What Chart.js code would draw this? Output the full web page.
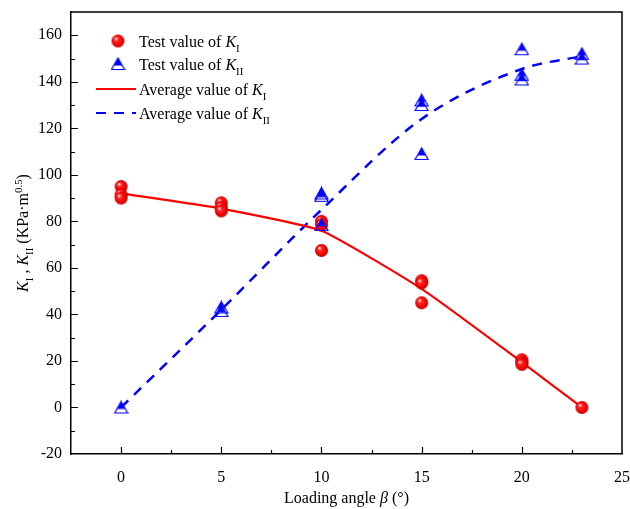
<!DOCTYPE html>
<html lang="en">
<head>
    <meta charset="UTF-8">
    <title>Stress intensity factors vs loading angle</title>
    <script src="https://cdn.jsdelivr.net/npm/chart.js"></script>
    <style>
        html, body { margin: 0; padding: 0; background: #fff; }
        #wrap { width: 630px; height: 509px; }
    </style>
</head>
<body>
    <div id="wrap"><canvas id="chart" width="630" height="509"></canvas></div>
    <script>
        // test points (angle, value)
        const kITestX = [0, 0, 0, 5, 5, 5, 10, 10, 10, 15, 15, 15, 20, 20, 20, 23];
        const kITestY = [95, 91.5, 90, 88, 86, 84.5, 80, 78.5, 67.5, 54.5, 53.5, 45, 20.5, 19.5, 18.5, 0];
        const kIITestX = [0, 5, 5, 10, 10, 10, 15, 15, 15, 20, 20, 20, 23, 23];
        const kIITestY = [0, 43, 41.5, 92, 91, 78.5, 132, 130, 109, 154, 143, 141, 152, 150];

        // averaged curves
        const avgAngles = [0, 5, 10, 15, 20, 23];
        const kIAvg = [92, 85.5, 76, 51, 19.5, 0];
        const kIIAvg = [0, 42, 85, 124, 145.5, 151];

        const xTicks = [0, 5, 10, 15, 20, 25];
        const yTicks = [-20, 0, 20, 40, 60, 80, 100, 120, 140, 160];

        const FONT = '"Liberation Serif", "Times New Roman", serif';
        const RED = '#ff0000';
        const BLUE = '#0000ff';

        function toPoints(xs, ys) {
            return xs.map((x, i) => ({ x: x, y: ys[i] }));
        }

        // red shaded ball marker
        function makeBall(r) {
            const c = document.createElement('canvas');
            c.width = c.height = r * 2 + 2;
            const g = c.getContext('2d');
            const cx = r + 1, cy = r + 1;
            const grad = g.createRadialGradient(cx - r * 0.35, cy - r * 0.4, 0.5, cx, cy, r);
            grad.addColorStop(0, '#ffd0d0');
            grad.addColorStop(0.3, '#ff2020');
            grad.addColorStop(0.8, '#ee0000');
            grad.addColorStop(1, '#b00000');
            g.fillStyle = grad;
            g.beginPath();
            g.arc(cx, cy, r, 0, Math.PI * 2);
            g.fill();
            return c;
        }

        // half filled blue triangle marker
        function makeTriangle(w, h) {
            const c = document.createElement('canvas');
            c.width = w + 2;
            c.height = h + 2;
            const g = c.getContext('2d');
            const cx = (w + 2) / 2, top = 1, bot = h + 1;
            g.strokeStyle = BLUE;
            g.lineWidth = 1.2;
            g.beginPath();
            g.moveTo(cx, top);
            g.lineTo(cx + w / 2, bot - 0.5);
            g.lineTo(cx - w / 2, bot - 0.5);
            g.closePath();
            g.stroke();
            const fy = top + h * 0.62;
            const half = (w / 2) * (fy - top) / h;
            g.fillStyle = BLUE;
            g.beginPath();
            g.moveTo(cx, top);
            g.lineTo(cx + half, fy);
            g.lineTo(cx - half, fy);
            g.closePath();
            g.fill();
            return c;
        }

        const ball = makeBall(6.5);
        const tri = makeTriangle(13, 12);

        // draws text with italic / sub / sup pieces, returns width
        function drawRich(ctx, parts, x, y, size) {
            let cx = x;
            parts.forEach(p => {
                let s = size, dy = 0;
                if (p.sub) { s = size * 0.68; dy = size * 0.3; }
                if (p.sup) { s = size * 0.68; dy = -size * 0.38; }
                ctx.font = (p.it ? 'italic ' : '') + s + 'px ' + FONT;
                ctx.fillText(p.t, cx, y + dy);
                cx += ctx.measureText(p.t).width;
            });
            return cx - x;
        }
        function richWidth(ctx, parts, size) {
            let w = 0;
            parts.forEach(p => {
                const s = (p.sub || p.sup) ? size * 0.68 : size;
                ctx.font = (p.it ? 'italic ' : '') + s + 'px ' + FONT;
                w += ctx.measureText(p.t).width;
            });
            return w;
        }

        const legendRows = [
            { kind: 'ball', parts: [{ t: 'Test value of ' }, { t: 'K', it: true }, { t: 'I', sub: true }] },
            { kind: 'tri', parts: [{ t: 'Test value of ' }, { t: 'K', it: true }, { t: 'II', sub: true }] },
            { kind: 'solid', parts: [{ t: 'Average value of ' }, { t: 'K', it: true }, { t: 'I', sub: true }] },
            { kind: 'dash', parts: [{ t: 'Average value of ' }, { t: 'K', it: true }, { t: 'II', sub: true }] }
        ];

        const decorPlugin = {
            id: 'decor',
            afterDraw(chart) {
                const ctx = chart.ctx;
                const a = chart.chartArea;
                const xs = chart.scales.x, ys = chart.scales.y;
                ctx.save();
                ctx.strokeStyle = '#000';
                ctx.lineWidth = 1.5;
                // frame top and right
                ctx.beginPath();
                ctx.moveTo(a.left, a.top);
                ctx.lineTo(a.right, a.top);
                ctx.lineTo(a.right, a.bottom);
                ctx.stroke();
                // inward ticks
                ctx.lineWidth = 1.2;
                ctx.beginPath();
                for (let v = 0; v < 25; v += 2.5) {
                    const px = Math.round(xs.getPixelForValue(v)) + 0.5;
                    const len = (v % 5 === 0) ? 7 : 4;
                    ctx.moveTo(px, a.bottom);
                    ctx.lineTo(px, a.bottom - len);
                }
                for (let v = -10; v <= 160; v += 10) {
                    const py = Math.round(ys.getPixelForValue(v)) + 0.5;
                    const len = (v % 20 === 0) ? 7 : 4;
                    ctx.moveTo(a.left, py);
                    ctx.lineTo(a.left + len, py);
                }
                ctx.stroke();

                // axis titles
                ctx.fillStyle = '#000';
                ctx.textBaseline = 'alphabetic';
                const xTitle = [{ t: 'Loading angle ' }, { t: 'β', it: true }, { t: ' (°)' }];
                const xw = richWidth(ctx, xTitle, 16);
                drawRich(ctx, xTitle, (a.left + a.right) / 2 - xw / 2, 503, 16);

                const yTitle = [
                    { t: 'K', it: true }, { t: 'I', sub: true }, { t: ' , ' },
                    { t: 'K', it: true }, { t: 'II', sub: true }, { t: ' (KPa·m' },
                    { t: '0.5', sup: true }, { t: ')' }
                ];
                const yw = richWidth(ctx, yTitle, 16);
                ctx.save();
                ctx.translate(28, (a.top + a.bottom) / 2);
                ctx.rotate(-Math.PI / 2);
                drawRich(ctx, yTitle, -yw / 2, 0, 16);
                ctx.restore();

                // legend
                const rowY = [41, 64, 89, 113];
                legendRows.forEach((r, i) => {
                    const y = rowY[i];
                    if (r.kind === 'ball') {
                        ctx.drawImage(ball, 118 - ball.width / 2, y - ball.height / 2);
                    } else if (r.kind === 'tri') {
                        ctx.drawImage(tri, 118 - tri.width / 2, y - tri.height / 2);
                    } else {
                        ctx.lineWidth = 2.2;
                        ctx.strokeStyle = r.kind === 'solid' ? RED : BLUE;
                        ctx.setLineDash(r.kind === 'dash' ? [10, 8] : []);
                        ctx.beginPath();
                        ctx.moveTo(96, y);
                        ctx.lineTo(136, y);
                        ctx.stroke();
                        ctx.setLineDash([]);
                    }
                    ctx.fillStyle = '#000';
                    drawRich(ctx, r.parts, 139, y + 6, 16);
                });
                ctx.restore();
            }
        };

        const ctx = document.getElementById('chart').getContext('2d');
        new Chart(ctx, {
            type: 'scatter',
            data: {
                datasets: [
                    {
                        type: 'line',
                        label: 'Average value of KI',
                        data: toPoints(avgAngles, kIAvg),
                        borderColor: RED,
                        borderWidth: 2.2,
                        pointRadius: 0,
                        tension: 0.15,
                        fill: false,
                        order: 3
                    },
                    {
                        type: 'line',
                        label: 'Average value of KII',
                        data: toPoints(avgAngles, kIIAvg),
                        borderColor: BLUE,
                        borderWidth: 2.5,
                        borderDash: [10, 8],
                        pointRadius: 0,
                        cubicInterpolationMode: 'monotone',
                        fill: false,
                        order: 4
                    },
                    {
                        label: 'Test value of KI',
                        data: toPoints(kITestX, kITestY),
                        pointStyle: ball,
                        order: 2
                    },
                    {
                        label: 'Test value of KII',
                        data: toPoints(kIITestX, kIITestY),
                        pointStyle: tri,
                        order: 1
                    }
                ]
            },
            options: {
                responsive: false,
                animation: false,
                layout: { padding: { top: 12, right: 8, left: 0, bottom: 0 } },
                plugins: {
                    legend: { display: false },
                    tooltip: { enabled: false }
                },
                scales: {
                    x: {
                        type: 'linear',
                        min: -2.5,
                        max: 25,
                        afterBuildTicks: s => { s.ticks = xTicks.map(v => ({ value: v })); },
                        afterFit: s => { s.height = 55; s.paddingLeft = 0; s.paddingRight = 0; },
                        grid: { display: false, drawTicks: false },
                        border: { display: true, color: '#000', width: 1.5 },
                        ticks: {
                            color: '#000',
                            padding: 14,
                            maxRotation: 0,
                            font: { family: FONT, size: 16 }
                        }
                    },
                    y: {
                        type: 'linear',
                        min: -20,
                        max: 170,
                        afterBuildTicks: s => { s.ticks = yTicks.map(v => ({ value: v })); },
                        afterFit: s => { s.width = 71; s.paddingTop = 0; s.paddingBottom = 0; },
                        grid: { display: false, drawTicks: false },
                        border: { display: true, color: '#000', width: 1.5 },
                        ticks: {
                            color: '#000',
                            padding: 9,
                            font: { family: FONT, size: 16 }
                        }
                    }
                }
            },
            plugins: [decorPlugin]
        });
    </script>
</body>
</html>
